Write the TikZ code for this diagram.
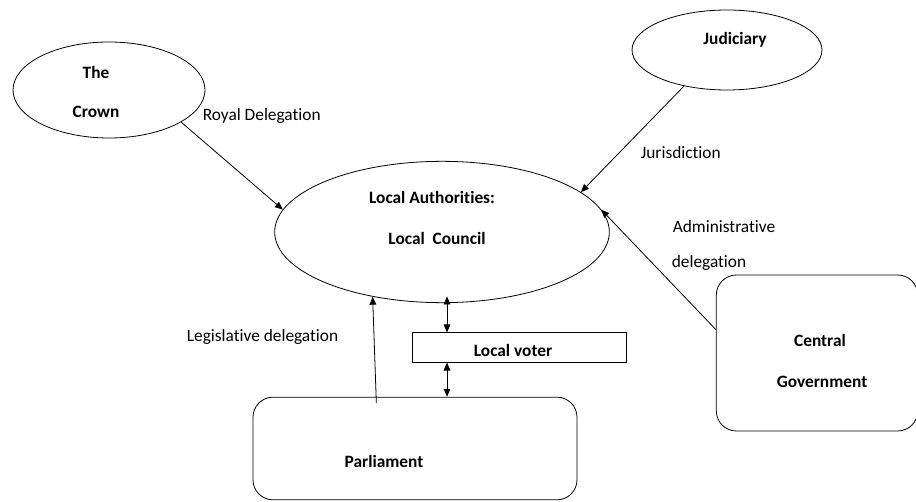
\documentclass[tikz,border=0pt]{standalone}
\usepackage{fontspec}
\setmainfont{Carlito}[Ligatures=CommonOff]
\usetikzlibrary{shapes.geometric,arrows.meta}

\begin{document}
\begin{tikzpicture}[x=0.75pt,y=-0.75pt,line width=0.6pt,font=\fontsize{13}{15}\selectfont]
% estilos
\tikzstyle{elipse} = [draw,ellipse,inner sep=0pt];
\tikzstyle{caja} = [draw,rectangle,rounded corners=15pt,inner sep=0pt];
\tikzstyle{rotulo} = [font=\fontsize{13}{15}\selectfont\bfseries];
\tikzstyle{flecha} = [-{Triangle[length=6pt,width=5pt]}];
\tikzstyle{dobleflecha} = [{Triangle[length=6pt,width=5pt]}-{Triangle[length=6pt,width=5pt]}];
\useasboundingbox (0,0) rectangle (916,502);
% dibujar entidades
\node[elipse,minimum width=144pt,minimum height=72pt] (crown) at (109,90) {};
\node[elipse,minimum width=142.5pt,minimum height=60pt] (judiciary) at (727,50) {};
\node[elipse,minimum width=251pt,minimum height=106pt] (council) at (442,232) {};
\node[caja,minimum width=151pt,minimum height=117pt] (central) at (817,353) {};
\node[caja,minimum width=243pt,minimum height=77pt] (parliament) at (415,448.5) {};
\node[draw,rectangle,minimum width=161pt,minimum height=22pt,inner sep=0pt] (voter) at (519.5,347.5) {};
% rotulos de entidades
\node[rotulo] (crownA) at (96,72) {The};
\node[rotulo] (crownB) at (96,112) {Crown};
\node[rotulo] (judiciaryT) at (735,40) {Judiciary};
\node[rotulo] (councilA) at (432,197) {Local Authorities:};
\node[rotulo] (councilB) at (437,238) {Local\ \ Council};
\node[rotulo] (centralA) at (820,340) {Central};
\node[rotulo] (centralB) at (822,382) {Government};
\node[rotulo] (parliamentT) at (384,461) {Parliament};
\node[rotulo] (voterT) at (513,350) {Local voter};
% rotulos de relaciones
\node[anchor=west] (royal) at (198,116) {Royal Delegation};
\node[anchor=west] (jurisdiction) at (636,153) {Jurisdiction};
\node[anchor=west] (adminA) at (668,227) {Administrative};
\node[anchor=west] (adminB) at (667,263) {delegation};
\node[anchor=east] (legislative) at (343,337) {Legislative delegation};
% dibujar relaciones
\coordinate (eje) at (447,0);
\draw[flecha] (crown.-24) -- (council.172);
\draw[flecha] (judiciary.-140) -- (council.16);
\draw[flecha] (central.167) -- (council.8);
\draw[flecha] ([xshift=-29pt,yshift=-4.5pt]parliament.north) -- (council.223);
\draw[dobleflecha] ([yshift=5pt]council.south -| eje) -- (voter.north -| eje);
\draw[dobleflecha] (voter.south -| eje) -- (parliament.north -| eje);
\end{tikzpicture}
\end{document}
